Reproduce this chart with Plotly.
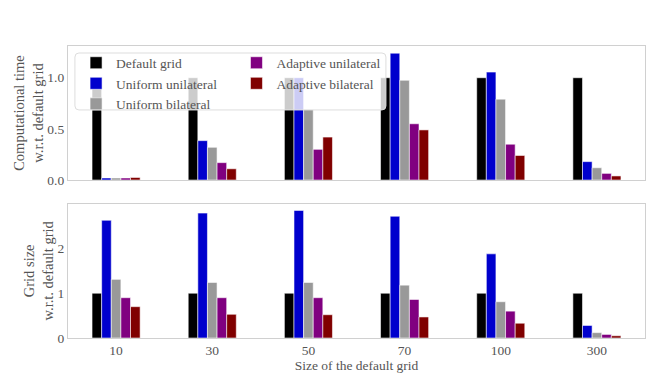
import plotly.graph_objects as go
from plotly.subplots import make_subplots

grid_sizes = ["10", "30", "50", "70", "100", "300"]
methods = ["Default grid", "Uniform unilateral", "Uniform bilateral",
           "Adaptive unilateral", "Adaptive bilateral"]
colors = ["#000000", "#0000cd", "#999999", "#800080", "#800000"]

# computational time w.r.t. default grid
time_default = [1.0, 1.0, 1.0, 1.0, 1.0, 1.0]
time_uni_uniform = [0.02, 0.385, 1.0, 1.24, 1.055, 0.18]
time_bi_uniform = [0.02, 0.32, 0.69, 0.975, 0.79, 0.12]
time_uni_adaptive = [0.02, 0.17, 0.30, 0.55, 0.35, 0.065]
time_bi_adaptive = [0.025, 0.11, 0.42, 0.49, 0.24, 0.04]

# grid size w.r.t. default grid
size_default = [1.0, 1.0, 1.0, 1.0, 1.0, 1.0]
size_uni_uniform = [2.63, 2.79, 2.85, 2.72, 1.88, 0.28]
size_bi_uniform = [1.31, 1.24, 1.24, 1.18, 0.81, 0.12]
size_uni_adaptive = [0.90, 0.90, 0.90, 0.86, 0.60, 0.08]
size_bi_adaptive = [0.70, 0.53, 0.52, 0.47, 0.33, 0.05]

time_data = [time_default, time_uni_uniform, time_bi_uniform, time_uni_adaptive, time_bi_adaptive]
size_data = [size_default, size_uni_uniform, size_bi_uniform, size_uni_adaptive, size_bi_adaptive]

FONT = "Liberation Serif"
FS = 13.5
TXT = "#555555"
SPINE = "#d0d0d0"

fig = make_subplots(rows=2, cols=1, shared_xaxes=False, vertical_spacing=0.08)

for i, name in enumerate(methods):
    lg = "legend" if i < 3 else "legend2"
    fig.add_trace(go.Bar(x=grid_sizes, y=time_data[i], name=name, marker_color=colors[i],
                         marker_line=dict(color="rgba(255,255,255,0.7)", width=0.8),
                         legend=lg, showlegend=True), row=1, col=1)
    fig.add_trace(go.Bar(x=grid_sizes, y=size_data[i], name=name, marker_color=colors[i],
                         marker_line=dict(color="rgba(255,255,255,0.7)", width=0.8),
                         showlegend=False), row=2, col=1)

axis_style = dict(showgrid=False, zeroline=False, showline=True, linecolor=SPINE, linewidth=1.2,
                  mirror=True, ticks="", automargin=False,
                  tickfont=dict(family=FONT, size=FS, color=TXT))

fig.update_xaxes(**axis_style, range=[-0.5, 5.5])
fig.update_xaxes(showticklabels=False, row=1, col=1)
fig.update_xaxes(title=dict(text="Size of the default grid", font=dict(family=FONT, size=FS, color=TXT),
                            standoff=2), row=2, col=1)
fig.update_yaxes(**axis_style)
fig.update_yaxes(range=[0, 1.31], tickvals=[0, 0.5, 1.0], ticktext=["0.0", "0.5", "1.0"],
                 title=dict(text="Computational time<br>w.r.t. default grid",
                            font=dict(family=FONT, size=14.5, color=TXT), standoff=0), row=1, col=1)
fig.update_yaxes(range=[0, 3.0], tickvals=[0, 1, 2],
                 title=dict(text="Grid size<br>w.r.t. default grid",
                            font=dict(family=FONT, size=14.5, color=TXT), standoff=0), row=2, col=1)

# rounded legend frame (paper coords, ~4px corner radius)
x0, x1, y0, y1 = 0.012, 0.551, 0.781, 0.976
rx, ry = 4 / 577, 4 / 292
frame = (f"M {x0+rx},{y0} L {x1-rx},{y0} Q {x1},{y0} {x1},{y0+ry} "
         f"L {x1},{y1-ry} Q {x1},{y1} {x1-rx},{y1} L {x0+rx},{y1} "
         f"Q {x0},{y1} {x0},{y1-ry} L {x0},{y0+ry} Q {x0},{y0} {x0+rx},{y0} Z")

# page body adds an 8px offset, margins compensate for it
fig.update_layout(
    width=664, height=388,
    margin=dict(l=60, r=27, t=38, b=58),
    plot_bgcolor="white", paper_bgcolor="white",
    barmode="group", bargap=0.5, bargroupgap=0,
    font=dict(family=FONT, size=FS, color=TXT),
    legend=dict(x=0.014, y=0.995, xanchor="left", yanchor="top", bgcolor="rgba(0,0,0,0)",
                font=dict(family=FONT, size=FS, color=TXT), tracegroupgap=0, itemwidth=30),
    legend2=dict(x=0.292, y=0.995, xanchor="left", yanchor="top", bgcolor="rgba(0,0,0,0)",
                 font=dict(family=FONT, size=FS, color=TXT), tracegroupgap=0, itemwidth=30),
    shapes=[dict(type="path", xref="paper", yref="paper", path=frame,
                 fillcolor="rgba(255,255,255,0.8)", line=dict(color="#dddddd", width=1), layer="above")],
)

# subplot domains
fig.update_layout(yaxis=dict(domain=[0.541, 1.0]), yaxis2=dict(domain=[0.0, 0.46]))

fig.write_html("out.html")
